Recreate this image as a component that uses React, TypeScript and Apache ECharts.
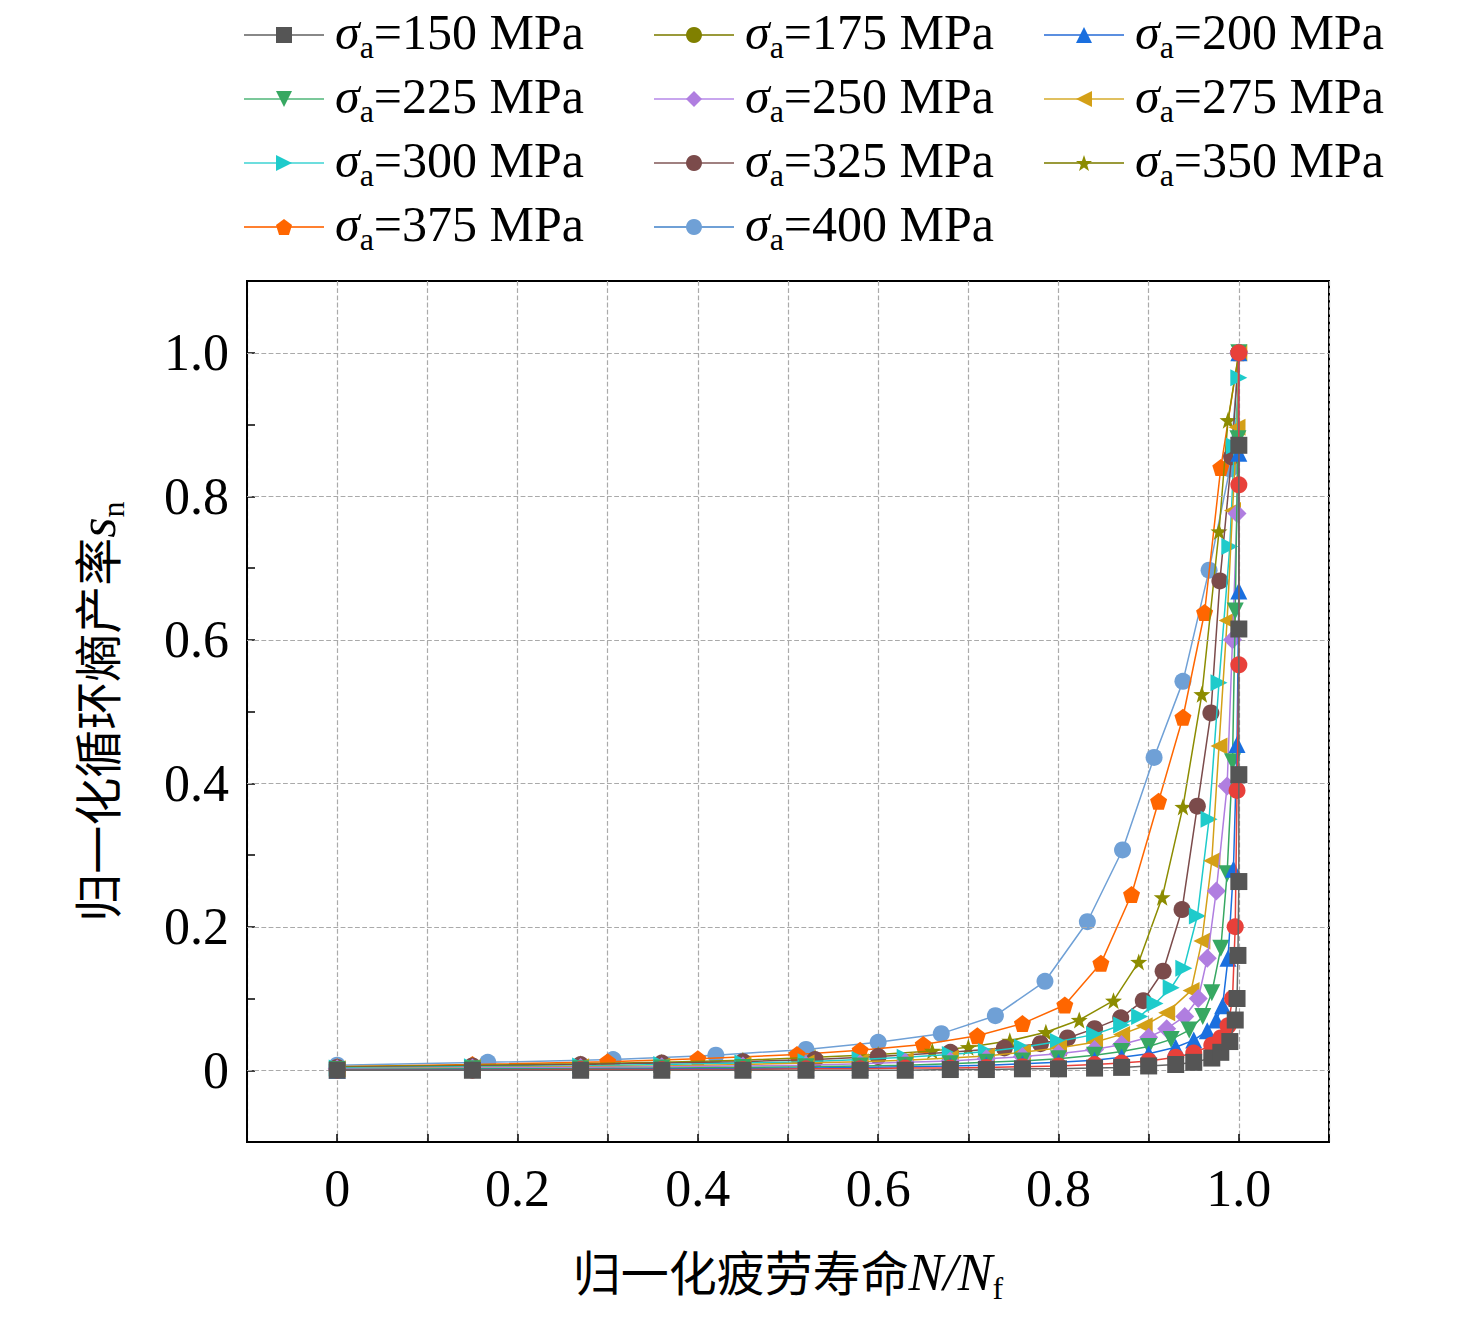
import React, { useEffect, useRef } from "react";
import * as echarts from "echarts";

const names = ["150", "175", "200", "225", "250", "275", "300", "325", "350", "375", "400"];
const colors = ["#555555", "#e8403a", "#1a6fdf", "#37a862", "#b07ee0", "#d4a017", "#1ecbcb", "#7b4b4b", "#8c8c00", "#ff6600", "#6fa0d6"];
const legendColors = ["#555555", "#808000", "#1a6fdf", "#37a862", "#b07ee0", "#d4a017", "#1ecbcb", "#7b4b4b", "#8c8c00", "#ff6600", "#6fa0d6"];
const lineColors = ["#888888", "#9a9a3a", "#5b8fe0", "#7bc89a", "#c8a6ee", "#e0c060", "#6ddede", "#a08080", "#9a9a3a", "#ff8030", "#6fa0d6"];
const symbols = [
  "rect",
  "circle",
  "triangle",
  "path://M-10,-8 L10,-8 L0,9Z",
  "diamond",
  "path://M9,-10 L9,10 L-9,0Z",
  "path://M-9,-10 L-9,10 L9,0Z",
  "circle",
  "path://M0,-10 L2.4,-3.3 9.5,-3.1 3.8,1.2 5.9,8.1 0,4 -5.9,8.1 -3.8,1.2 -9.5,-3.1 -2.4,-3.3Z",
  "path://M0,-10 L9.5,-3.1 L5.9,8.1 L-5.9,8.1 L-9.5,-3.1Z",
  "circle",
];

const s150 = [[0,0],[0.15,0],[0.27,0],[0.36,0],[0.45,0],[0.52,0],[0.58,0],[0.63,0],[0.68,0.001],[0.72,0.001],[0.76,0.002],[0.8,0.002],[0.84,0.003],[0.87,0.004],[0.9,0.006],[0.93,0.008],[0.95,0.011],[0.97,0.017],[0.98,0.025],[0.99,0.04],[0.996,0.07],[0.998,0.1],[0.999,0.16],[1,0.263],[1,0.412],[1,0.615],[1,0.871]];
const s175 = [[0,0],[0.15,0],[0.27,0.001],[0.36,0.001],[0.45,0.001],[0.52,0.002],[0.58,0.002],[0.63,0.003],[0.68,0.003],[0.72,0.004],[0.76,0.005],[0.8,0.006],[0.84,0.008],[0.87,0.01],[0.9,0.013],[0.93,0.018],[0.95,0.024],[0.97,0.035],[0.98,0.045],[0.988,0.062],[0.993,0.1],[0.996,0.2],[0.998,0.39],[1,0.565],[1,0.816],[1,1]];
const s200 = [[0,0],[0.15,0.001],[0.27,0.001],[0.36,0.002],[0.45,0.002],[0.52,0.003],[0.58,0.004],[0.63,0.005],[0.68,0.006],[0.72,0.007],[0.76,0.009],[0.8,0.011],[0.84,0.014],[0.87,0.018],[0.9,0.023],[0.93,0.032],[0.95,0.042],[0.965,0.055],[0.975,0.07],[0.982,0.09],[0.988,0.156],[0.994,0.28],[0.998,0.454],[1,0.668],[1,0.86],[1,1]];
const s225 = [[0,0.001],[0.15,0.002],[0.27,0.002],[0.36,0.003],[0.45,0.004],[0.52,0.005],[0.58,0.006],[0.63,0.007],[0.68,0.009],[0.72,0.011],[0.76,0.013],[0.8,0.016],[0.84,0.021],[0.87,0.026],[0.9,0.033],[0.925,0.043],[0.945,0.056],[0.96,0.075],[0.97,0.108],[0.98,0.17],[0.987,0.274],[0.993,0.43],[0.996,0.64],[0.999,0.88],[1,1]];
const s250 = [[0,0.002],[0.15,0.003],[0.27,0.004],[0.36,0.005],[0.45,0.006],[0.52,0.007],[0.58,0.009],[0.63,0.011],[0.68,0.013],[0.72,0.016],[0.76,0.019],[0.8,0.023],[0.84,0.029],[0.87,0.036],[0.9,0.046],[0.92,0.058],[0.94,0.075],[0.955,0.1],[0.965,0.156],[0.975,0.25],[0.987,0.396],[0.993,0.6],[0.998,0.776],[1,1]];
const s275 = [[0,0.002],[0.15,0.004],[0.27,0.005],[0.36,0.006],[0.45,0.008],[0.52,0.01],[0.58,0.012],[0.63,0.014],[0.68,0.017],[0.72,0.02],[0.76,0.025],[0.8,0.031],[0.84,0.039],[0.87,0.05],[0.895,0.062],[0.92,0.08],[0.947,0.111],[0.959,0.18],[0.97,0.292],[0.978,0.452],[0.987,0.627],[0.993,0.78],[0.998,0.896],[1,1]];
const s300 = [[0,0.003],[0.15,0.005],[0.27,0.006],[0.36,0.008],[0.45,0.01],[0.52,0.012],[0.58,0.015],[0.63,0.018],[0.68,0.022],[0.72,0.026],[0.76,0.032],[0.8,0.04],[0.84,0.05],[0.87,0.063],[0.89,0.075],[0.907,0.093],[0.925,0.115],[0.939,0.142],[0.954,0.215],[0.967,0.35],[0.978,0.54],[0.99,0.73],[0.995,0.87],[1,0.965]];
const s325 = [[0,0.004],[0.15,0.006],[0.27,0.008],[0.36,0.01],[0.45,0.012],[0.53,0.015],[0.6,0.019],[0.68,0.025],[0.74,0.031],[0.78,0.037],[0.81,0.045],[0.84,0.058],[0.869,0.073],[0.894,0.097],[0.916,0.138],[0.937,0.224],[0.954,0.368],[0.969,0.498],[0.979,0.682],[0.992,0.855],[1,1]];
const s350 = [[0,0.005],[0.15,0.007],[0.27,0.009],[0.36,0.011],[0.45,0.014],[0.53,0.018],[0.6,0.022],[0.66,0.027],[0.7,0.032],[0.746,0.041],[0.786,0.053],[0.823,0.07],[0.861,0.097],[0.889,0.151],[0.915,0.241],[0.938,0.367],[0.959,0.524],[0.978,0.751],[0.988,0.906],[1,1]];
const s375 = [[0,0.005],[0.15,0.008],[0.3,0.012],[0.4,0.016],[0.51,0.022],[0.58,0.028],[0.65,0.036],[0.71,0.048],[0.76,0.065],[0.807,0.091],[0.847,0.149],[0.881,0.245],[0.911,0.375],[0.938,0.492],[0.962,0.638],[0.98,0.84],[1,1]];
const s400 = [[0,0.007],[0.167,0.011],[0.306,0.015],[0.42,0.021],[0.52,0.029],[0.6,0.039],[0.67,0.051],[0.73,0.076],[0.785,0.124],[0.832,0.207],[0.871,0.307],[0.906,0.436],[0.938,0.542],[0.967,0.697],[0.99,0.838],[1,1]];
const allData = [s150, s175, s200, s225, s250, s275, s300, s325, s350, s375, s400];

const xTicks = ["0", "0.2", "0.4", "0.6", "0.8", "1.0"];
const yTicks = ["0", "0.2", "0.4", "0.6", "0.8", "1.0"];
const yGrid = [0, 0.2, 0.4, 0.6, 0.8, 1.0];

const FONT = "Liberation Serif";
const richLegend = {
  i: { fontFamily: FONT, fontStyle: "italic", fontSize: 50, color: "#000", lineHeight: 50, verticalAlign: "top" },
  s: { fontFamily: FONT, fontSize: 32, color: "#000", lineHeight: 30, verticalAlign: "bottom" },
  n: { fontFamily: FONT, fontSize: 50, color: "#000", lineHeight: 50, verticalAlign: "top" },
  z: { lineHeight: 56, verticalAlign: "top", fontSize: 1 },
};
const richName = {
  c: { fontFamily: "Noto Sans CJK SC", fontSize: 48, color: "#000", lineHeight: 52, verticalAlign: "top" },
  i: { fontFamily: FONT, fontStyle: "italic", fontSize: 52, color: "#000", lineHeight: 52, verticalAlign: "top" },
  s: { fontFamily: FONT, fontSize: 32, color: "#000", lineHeight: 30, verticalAlign: "bottom" },
  z: { lineHeight: 58, verticalAlign: "top", fontSize: 1 },
};

function fmtTick(v: number, list: string[]) {
  const r = Math.round(v * 10);
  if (r < 0 || r > 10 || r % 2 !== 0) return "";
  return list[r / 2];
}

export default function App() {
  const ref = useRef<HTMLDivElement>(null);
  useEffect(() => {
    const chart = echarts.init(ref.current!, undefined, { renderer: "svg" });
    const cols = [[0, 3, 6, 9], [1, 4, 7, 10], [2, 5, 8]];
    const lefts = [230, 640, 1030];
    const legends = cols.map((c, k) => ({
      orient: "vertical",
      left: lefts[k],
      top: -6,
      itemWidth: 80,
      itemHeight: 20,
      itemGap: 8,
      data: c.map((i) => ({
        name: names[i],
        itemStyle: { color: legendColors[i] },
        lineStyle: { color: lineColors[i] },
      })),
      formatter: (n: string) => `{i|σ}{s|a}{n|=${n} MPa}{z| }`,
      textStyle: { rich: richLegend, padding: [0, 0, 0, 6] },
      selectedMode: false,
    }));
    const series = allData.map((d, i) => ({
      name: names[i],
      type: "line",
      data: d,
      symbol: symbols[i],
      symbolSize: i === 4 ? 19 : 17,
      itemStyle: { color: colors[i] },
      lineStyle: { color: colors[i] === "#555555" ? "#666" : colors[i], width: 1.5 },
      z: 2 + (10 - i),
      ...(i === 0
        ? {
            markLine: {
              silent: true,
              symbol: "none",
              label: { show: false },
              lineStyle: { color: "#aaa", type: "dashed", width: 1.2 },
              data: yGrid.map((y) => ({ yAxis: y })),
            },
          }
        : {}),
    }));
    chart.setOption({
      animation: false,
      legend: legends,
      grid: { left: 239, top: 273, width: 1082, height: 861, show: true, borderColor: "#000", borderWidth: 2, backgroundColor: "transparent" },
      xAxis: {
        type: "value",
        min: -0.1,
        max: 1.1,
        interval: 0.1,
        axisLine: { onZero: false, lineStyle: { color: "#000", width: 2 } },
        axisTick: { inside: true, length: 8, lineStyle: { color: "#000", width: 1.5 } },
        axisLabel: { formatter: (v: number) => fmtTick(v, xTicks), fontFamily: FONT, fontSize: 52, color: "#000", margin: 20 },
        splitLine: { show: true, lineStyle: { color: "#aaa", type: "dashed", width: 1.2 } },
        name: "{c|归一化疲劳寿命}{i|N}{i|/}{i|N}{s|f}{z| }",
        nameLocation: "middle",
        nameGap: 104,
        nameTextStyle: { rich: richName },
      },
      yAxis: {
        type: "value",
        min: -0.1,
        max: 1.1,
        interval: 0.1,
        axisLine: { onZero: false, lineStyle: { color: "#000", width: 2 } },
        axisTick: { inside: true, length: 8, lineStyle: { color: "#000", width: 1.5 } },
        axisLabel: { formatter: (v: number) => fmtTick(v, yTicks), fontFamily: FONT, fontSize: 52, color: "#000", margin: 18 },
        splitLine: { show: false },
        name: "{c|归一化循环熵产率}{i|s}{s|n}{z| }",
        nameLocation: "middle",
        nameRotate: 90,
        nameGap: 118,
        nameTextStyle: { rich: richName },
      },
      series,
    });
    return () => chart.dispose();
  }, []);
  return <div ref={ref} style={{ width: 1460, height: 1309 }} />;
}
